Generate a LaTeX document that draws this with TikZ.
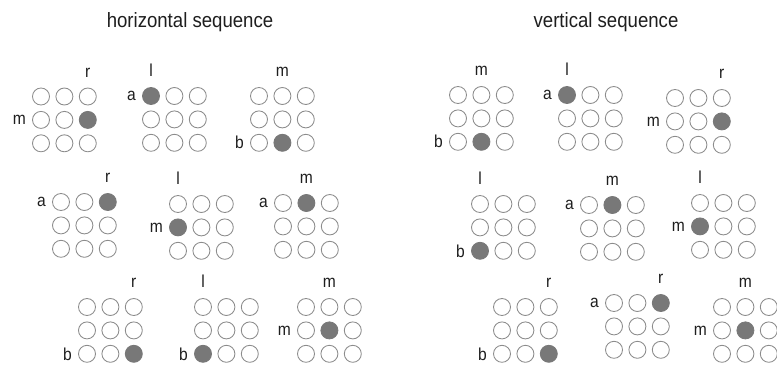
\documentclass[tikz,border=0pt]{standalone}
\usepackage{fontspec}
\setmainfont{Liberation Sans}
\newfontfamily\narrowsans{Liberation Sans}[FakeStretch=0.9]
\usetikzlibrary{positioning}

\definecolor{ringgray}{RGB}{140,140,140}
\definecolor{dotgray}{RGB}{120,120,120}
\definecolor{inkgray}{RGB}{30,30,30}

\tikzset{
  cell0/.style={circle, draw=ringgray, line width=0.65pt, fill=white,
    minimum size=12.75pt, inner sep=0pt},
  cell1/.style={cell0, fill=dotgray, draw=dotgray},
  lbl/.style={inner sep=0pt, text=inkgray,
    font=\narrowsans\fontsize{13}{13}\selectfont},
  heading/.style={inner sep=0pt, text=inkgray,
    font=\narrowsans\fontsize{15.5}{15.5}\selectfont},
}

% 3x3 grid: name, x, y of top-left cell, column, row of the dot, labels
\newcommand{\seqgrid}[7]{%
  \foreach \c in {1,2,3}
    \foreach \r in {1,2,3} {
      \pgfmathtruncatemacro\isdot{and(\c==#4,\r==#5)}
      \node[cell\isdot] (#1-\c-\r) at ({#2+(\c-1)*23.4},{#3+(\r-1)*23.4}) {};
    }
  \node[lbl, above=7.5pt of #1-#4-1] (#1-col) {#6};
  \node[lbl, left=4.5pt of #1-1-#5] (#1-row) {#7};
}

\begin{document}
\begin{tikzpicture}[x=0.75pt, y=-0.75pt]
  \useasboundingbox (0,0) rectangle (777,368);
  \clip (0,0) rectangle (777,368);

  % --- headings ---
  \node[heading] (title-h) at (190,22) {horizontal sequence};
  \node[heading] (title-v) at (606,22) {vertical sequence};

  % --- horizontal sequence ---
  \seqgrid{h1}{41}{96.5}{3}{2}{r}{m}
  \seqgrid{h2}{151}{96}{1}{1}{l}{a}
  \seqgrid{h3}{259}{96}{2}{3}{m}{b}
  \seqgrid{h4}{61}{202}{3}{1}{r}{a}
  \seqgrid{h5}{178}{204}{1}{2}{l}{m}
  \seqgrid{h6}{283}{203}{2}{1}{m}{a}
  \seqgrid{h7}{87}{307}{3}{3}{r}{b}
  \seqgrid{h8}{203}{307}{1}{3}{l}{b}
  \seqgrid{h9}{306}{307}{2}{2}{m}{m}

  % --- vertical sequence ---
  \seqgrid{v1}{458}{95}{2}{3}{m}{b}
  \seqgrid{v2}{567}{95}{1}{1}{l}{a}
  \seqgrid{v3}{675}{98}{3}{2}{r}{m}
  \seqgrid{v4}{480}{204}{1}{3}{l}{b}
  \seqgrid{v5}{589}{205}{2}{1}{m}{a}
  \seqgrid{v6}{700}{203}{1}{2}{l}{m}
  \seqgrid{v7}{502}{307}{3}{3}{r}{b}
  \seqgrid{v8}{614}{303}{3}{1}{r}{a}
  \seqgrid{v9}{722}{307}{2}{2}{m}{m}
\end{tikzpicture}
\end{document}
